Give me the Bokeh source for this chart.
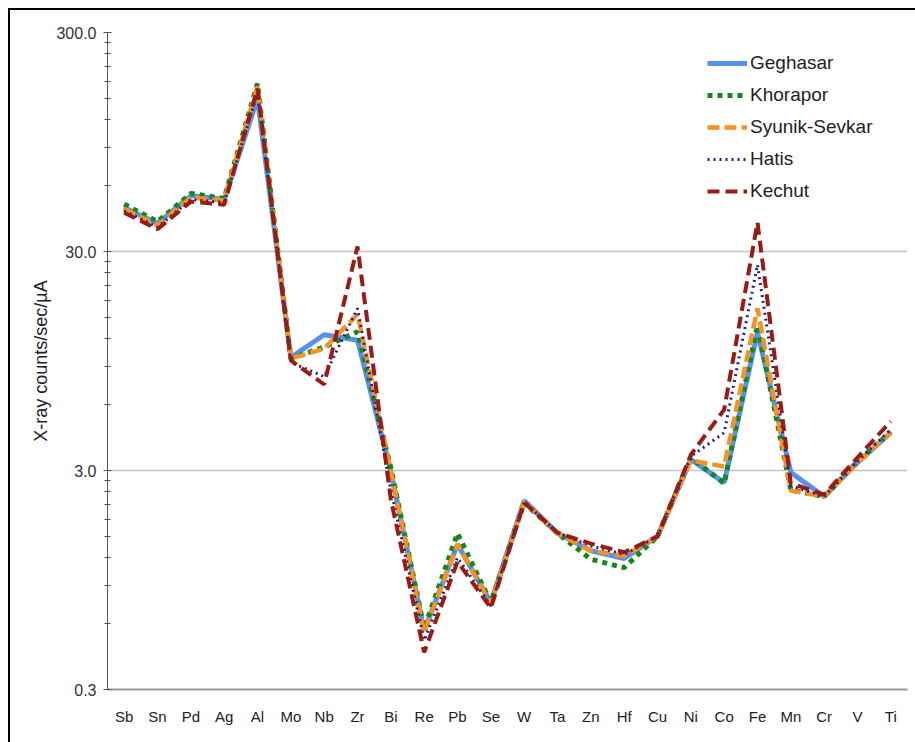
from bokeh.plotting import figure
from bokeh.models import Range1d, FixedTicker, NumeralTickFormatter, Legend, LegendItem
from bokeh.embed import file_html
from bokeh.resources import INLINE

cats = ["Sb", "Sn", "Pd", "Ag", "Al", "Mo", "Nb", "Zr", "Bi", "Re", "Pb", "Se",
        "W", "Ta", "Zn", "Hf", "Cu", "Ni", "Co", "Fe", "Mn", "Cr", "V", "Ti"]

geghasar = [47.6, 40.3, 54.0, 51.8, 150.0, 9.84, 12.5, 11.8, 2.97, 0.558, 1.38, 0.749,
            2.19, 1.55, 1.29, 1.19, 1.50, 3.37, 2.64, 12.8, 2.94, 2.28, 3.26, 4.47]
khorapor = [49.3, 41.1, 55.2, 52.4, 175.6, 9.73, 11.0, 12.9, 3.09, 0.57, 1.55, 0.749,
            2.14, 1.55, 1.18, 1.08, 1.50, 3.44, 2.62, 13.8, 2.45, 2.28, 3.30, 4.51]
syunik = [47.0, 39.5, 52.9, 51.3, 170.0, 9.73, 10.8, 15.5, 2.97, 0.546, 1.38, 0.739,
          2.16, 1.55, 1.29, 1.22, 1.50, 3.33, 3.13, 16.5, 2.43, 2.28, 3.26, 4.47]
hatis = [46.0, 38.7, 51.8, 50.2, 159.6, 9.34, 8.06, 16.5, 2.45, 0.503, 1.20, 0.722,
         2.16, 1.56, 1.36, 1.24, 1.50, 3.48, 4.46, 26.1, 2.56, 2.28, 3.30, 4.62]
kechut = [45.1, 37.9, 50.7, 49.1, 166.6, 9.55, 7.41, 31.6, 2.21, 0.443, 1.15, 0.706,
          2.14, 1.56, 1.39, 1.27, 1.50, 3.54, 5.69, 40.7, 2.62, 2.33, 3.44, 5.03]

series_names = ["Geghasar", "Khorapor", "Syunik-Sevkar", "Hatis", "Kechut"]

y_major = [0.3, 3.0, 30.0, 300.0]
y_minor = [d * k for d in [0.3, 3.0, 30.0] for k in range(2, 10)]

FONT = "Liberation Sans"

p = figure(width=915, height=742, x_range=cats, y_axis_type="log",
           y_range=Range1d(0.3, 300), output_backend="svg", toolbar_location=None,
           min_border_left=107, min_border_right=8, min_border_top=32, min_border_bottom=53)
p.border_fill_color = None
p.styles = {"box-shadow": "inset 8px 8px 0 0 #fff, inset 10px 10px 0 0 #000"}
p.outline_line_color = None
p.background_fill_color = "white"

# grid
p.xgrid.grid_line_color = None
p.ygrid.grid_line_color = "#c4c4c4"
p.ygrid.grid_line_width = 1.5

# y axis
ya = p.yaxis[0]
ya.ticker = FixedTicker(ticks=y_major, minor_ticks=y_minor)
ya.formatter = NumeralTickFormatter(format="0.0")
ya.axis_line_color = "#555555"
ya.major_tick_line_color = "#555555"
ya.minor_tick_line_color = "#555555"
ya.major_tick_in = 4
ya.major_tick_out = 4
ya.minor_tick_in = 3
ya.minor_tick_out = 3
ya.major_label_text_font = FONT
ya.major_label_text_font_size = "16px"
ya.major_label_text_color = "#333333"
ya.major_label_standoff = 7
ya.axis_label = "X-ray counts/sec/\u00b5A"
ya.axis_label_text_font = FONT
ya.axis_label_text_font_size = "18px"
ya.axis_label_text_font_style = "normal"
ya.axis_label_text_color = "#222222"
ya.axis_label_standoff = 2

# x axis
xa = p.xaxis[0]
xa.axis_line_color = "#999999"
xa.axis_line_width = 2
xa.major_tick_line_color = None
xa.minor_tick_line_color = None
xa.major_label_text_font = FONT
xa.major_label_text_font_size = "15px"
xa.major_label_text_color = "#222222"
xa.major_label_standoff = 12

styles = [
    dict(color="#5592F0", width=5, dash="solid"),
    dict(color="#14871E", width=5, dash="5 5"),
    dict(color="#F7911F", width=4.5, dash="12 5"),
    dict(color="#1C2190", width=3, dash="2 4"),
    dict(color="#9B1B14", width=4, dash="12 6"),
]
data = [geghasar, khorapor, syunik, hatis, kechut]

items = []
for name, vals, st in zip(series_names, data, styles):
    r = p.line(x=cats, y=vals, line_color=st["color"], line_width=st["width"],
               line_dash=st["dash"])
    items.append(LegendItem(label=name, renderers=[r]))

legend = Legend(items=items, location=(600, 487))
legend.border_line_color = None
legend.background_fill_alpha = 0
legend.padding = 0
legend.margin = 0
legend.spacing = 10
legend.glyph_width = 40
legend.glyph_height = 20
legend.label_height = 20
legend.label_standoff = 3
legend.label_text_font = FONT
legend.label_text_font_size = "19px"
legend.label_text_color = "#222222"
p.add_layout(legend)

open("out.html", "w").write(file_html(p, INLINE))
